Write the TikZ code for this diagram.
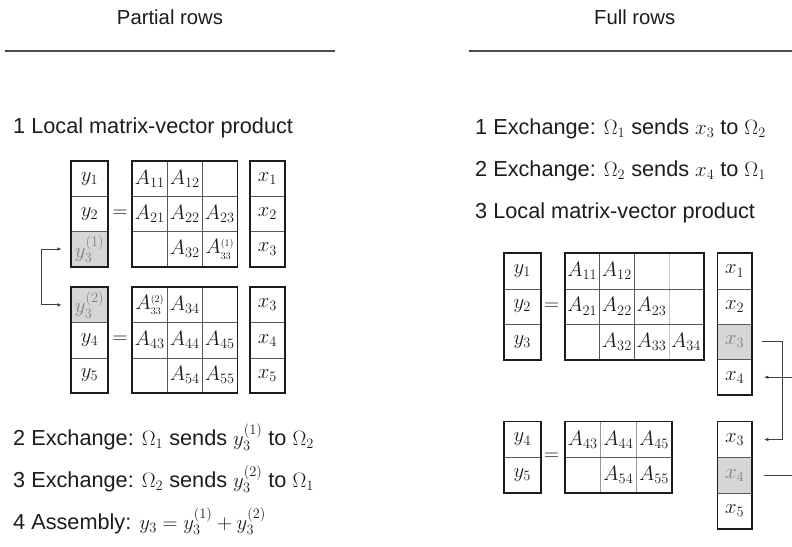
\documentclass[tikz,border=0pt]{standalone}
\usepackage[no-math]{fontspec}
\setmainfont{Liberation Sans}
\usepackage{amsmath}
\usetikzlibrary{arrows.meta,positioning}
\definecolor{ink}{HTML}{1C1C1C}
\definecolor{cellgray}{HTML}{D6D6D6}
\tikzset{
  >={Latex[length=4.5pt,width=3.6pt]},
  head/.style={font=\fontsize{20.3}{24}\selectfont,text=ink},
  stepline/.style={anchor=base west,inner sep=0pt,font=\fontsize{21.7}{25}\selectfont,text=ink},
  cell/.style={inner sep=0pt,font=\fontsize{19.5}{19.5}\selectfont,text=ink},
  vcell/.style={cell,font=\fontsize{21}{21}\selectfont},
  shade/.style={fill=cellgray,text=black!50},
  frame/.style={draw=ink,line width=1.9pt},
  grid/.style={black!65,line width=0.8pt},
  faint/.style={black!22,line width=0.8pt},
  rule/.style={black!70,line width=1.7pt},
  link/.style={black!75,line width=0.9pt}
}

\begin{document}
\begin{tikzpicture}[x=1pt,y=-1pt]
\useasboundingbox (0,0) rectangle (792,546);
\coordinate (edge) at (800,0);
% headings
\node[head] (hpart) at (170,17) {Partial rows};
\node[head] (hfull) at (634.7,17) {Full rows};
\draw[rule] (5,50.7) -- (335,50.7);
\draw[rule] (469,50.7) -- (792,50.7);
% steps
\node[stepline] (ls1) at (13,133) {1 Local matrix-vector product};
\node[stepline] (ls2) at (13,445) {2 Exchange: $\Omega_1$ sends $y^{(1)}_3$ to $\Omega_2$};
\node[stepline] (ls3) at (13,487) {3 Exchange: $\Omega_2$ sends $y^{(2)}_3$ to $\Omega_1$};
\node[stepline] (ls4) at (13,529) {4 Assembly: $y_3 = y^{(1)}_3 + y^{(2)}_3$};
\node[stepline] (rs1) at (475,134) {1 Exchange: $\Omega_1$ sends $x_3$ to $\Omega_2$};
\node[stepline] (rs2) at (475,176) {2 Exchange: $\Omega_2$ sends $x_4$ to $\Omega_1$};
\node[stepline] (rs3) at (475,218) {3 Local matrix-vector product};

% partial rows, upper block
\foreach \t/\s [count=\i] in {y_1/,y_2/,y^{(1)}_3/shade}
  \node[vcell,minimum width=37pt,minimum height=35.2pt,\s] (LUy\i) at (89.5,{143.4+35.2*\i}) {$\t$};
\foreach \row [count=\i] in {{A_{11},A_{12},{}},{A_{21},A_{22},A_{23}},{{},A_{32},{A^{\scriptscriptstyle(1)}_{\scriptscriptstyle33}}}}
  \foreach \t [count=\j] in \row
    \node[cell,minimum width=35pt,minimum height=35.2pt] (LUA\i\j) at ({114.8+35*\j},{143.4+35.2*\i}) {$\t$};
\foreach \t [count=\i] in {x_1,x_2,x_3}
  \node[vcell,minimum width=35pt,minimum height=35.2pt] (LUx\i) at (267.5,{143.4+35.2*\i}) {$\t$};
\node[cell] (LUeq) at (120,213.8) {$=$};
\foreach \i in {1,2} {
  \draw[grid] (LUA1\i.north east) -- (LUA3\i.south east);
  \draw[grid] (LUA\i1.south west) -- (LUA\i3.south east);
  \draw[grid] (LUy\i.south west) -- (LUy\i.south east);
  \draw[grid] (LUx\i.south west) -- (LUx\i.south east);
}
\draw[frame] (LUy1.north west) rectangle (LUy3.south east);
\draw[frame] (LUA11.north west) rectangle (LUA33.south east);
\draw[frame] (LUx1.north west) rectangle (LUx3.south east);

% partial rows, lower block
\foreach \t/\s [count=\i] in {y^{(2)}_3/shade,y_4/,y_5/}
  \node[vcell,minimum width=37pt,minimum height=35.2pt,\s] (LLy\i) at (89.5,{269.7+35.2*\i}) {$\t$};
\foreach \row [count=\i] in {{{A^{\scriptscriptstyle(2)}_{\scriptscriptstyle33}},A_{34},{}},{A_{43},A_{44},A_{45}},{{},A_{54},A_{55}}}
  \foreach \t [count=\j] in \row
    \node[cell,minimum width=35pt,minimum height=35.2pt] (LLA\i\j) at ({114.8+35*\j},{269.7+35.2*\i}) {$\t$};
\foreach \t [count=\i] in {x_3,x_4,x_5}
  \node[vcell,minimum width=35pt,minimum height=35.2pt] (LLx\i) at (267.5,{269.7+35.2*\i}) {$\t$};
\node[cell] (LLeq) at (120,340.1) {$=$};
\foreach \i in {1,2} {
  \draw[grid] (LLA1\i.north east) -- (LLA3\i.south east);
  \draw[grid] (LLA\i1.south west) -- (LLA\i3.south east);
  \draw[grid] (LLy\i.south west) -- (LLy\i.south east);
  \draw[grid] (LLx\i.south west) -- (LLx\i.south east);
}
\draw[frame] (LLy1.north west) rectangle (LLy3.south east);
\draw[frame] (LLA11.north west) rectangle (LLA33.south east);
\draw[frame] (LLx1.north west) rectangle (LLx3.south east);
\draw[link,<->] ([xshift=-9pt]LUy3.west) -- ++(-20,0) |- ([xshift=-9pt]LLy1.west);

% full rows, upper block
\foreach \t [count=\i] in {y_1,y_2,y_3}
  \node[vcell,minimum width=36.7pt,minimum height=35.4pt] (RUy\i) at (522.3,{235.6+35.4*\i}) {$\t$};
\foreach \row [count=\i] in {{A_{11},A_{12},{},{}},{A_{21},A_{22},A_{23},{}},{{},A_{32},A_{33},A_{34}}}
  \foreach \t [count=\j] in \row
    \node[cell,minimum width=34.6pt,minimum height=35.4pt] (RUA\i\j) at ({547.7+34.6*\j},{235.6+35.4*\i}) {$\t$};
\foreach \t/\s [count=\i] in {x_1/,x_2/,x_3/shade,x_4/}
  \node[vcell,minimum width=34pt,minimum height=35.4pt,\s] (RUx\i) at (734.7,{235.6+35.4*\i}) {$\t$};
\node[cell] (RUeq) at (551.7,306.4) {$=$};
\draw[faint] (RUA13.north east) -- (RUA33.south east);
\foreach \i in {1,2} {
  \draw[grid] (RUA1\i.north east) -- (RUA3\i.south east);
  \draw[grid] (RUA\i1.south west) -- (RUA\i4.south east);
  \draw[grid] (RUy\i.south west) -- (RUy\i.south east);
}
\foreach \i in {1,2,3}
  \draw[grid] (RUx\i.south west) -- (RUx\i.south east);
\draw[frame] (RUy1.north west) rectangle (RUy3.south east);
\draw[frame] (RUA11.north west) rectangle (RUA34.south east);
\draw[frame] (RUx1.north west) rectangle (RUx4.south east);

% full rows, lower block
\foreach \t [count=\i] in {y_4,y_5}
  \node[vcell,minimum width=36.7pt,minimum height=35.6pt] (RLy\i) at (522.3,{403.9+35.6*\i}) {$\t$};
\foreach \row [count=\i] in {{A_{43},A_{44},A_{45}},{{},A_{54},A_{55}}}
  \foreach \t [count=\j] in \row
    \node[cell,minimum width=35.6pt,minimum height=35.6pt] (RLA\i\j) at ({547.2+35.6*\j},{403.9+35.6*\i}) {$\t$};
\foreach \t/\s [count=\i] in {x_3/,x_4/shade,x_5/}
  \node[vcell,minimum width=34pt,minimum height=35.6pt,\s] (RLx\i) at (734.7,{403.9+35.6*\i}) {$\t$};
\node[cell] (RLeq) at (551.7,457.3) {$=$};
\foreach \j in {1,2}
  \draw[grid,black!40] (RLA1\j.north east) -- (RLA2\j.south east);
\draw[grid] (RLA11.south west) -- (RLA13.south east);
\draw[grid] (RLy1.south west) -- (RLy1.south east);
\foreach \i in {1,2}
  \draw[grid] (RLx\i.south west) -- (RLx\i.south east);
\draw[frame] (RLy1.north west) rectangle (RLy2.south east);
\draw[frame] (RLA11.north west) rectangle (RLA23.south east);
\draw[frame] (RLx1.north west) rectangle (RLx3.south east);

% exchanges of x3 and x4
\draw[link,->] ([xshift=10pt]RUx3.east) -- ++(21,0) |- ([xshift=12pt]RLx1.east);
\draw[link,<-] ([xshift=12pt]RUx4.east) -- (RUx4.east -| edge);
\draw[link] ([xshift=12pt]RLx2.east) -- (RLx2.east -| edge);
\end{tikzpicture}
\end{document}
